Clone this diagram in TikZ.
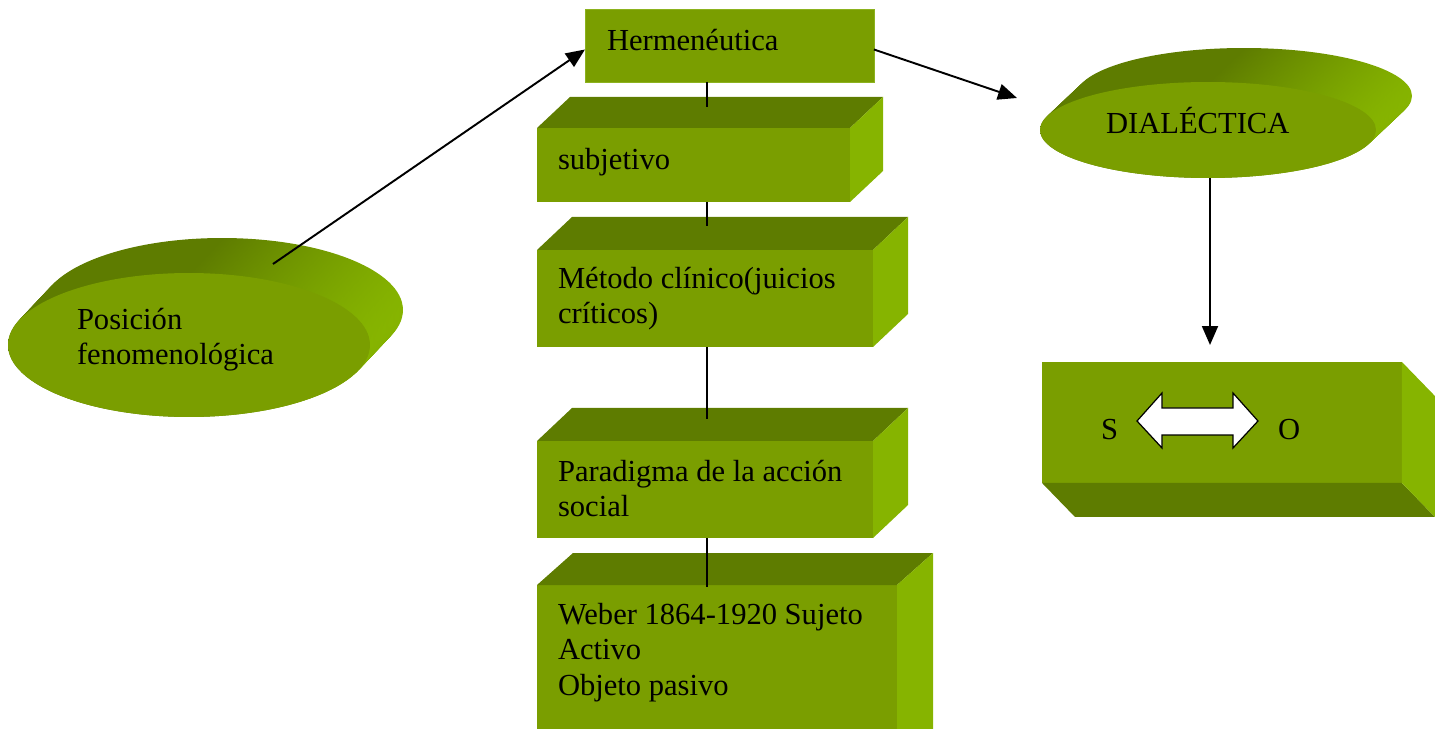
\documentclass[tikz,border=0pt]{standalone}
\usepackage{fontspec}
\setmainfont{Liberation Serif}
\usetikzlibrary{arrows.meta,calc,shapes.geometric}
\definecolor{frontc}{RGB}{122,158,0}
\definecolor{topc}{RGB}{94,124,0}
\definecolor{sidec}{RGB}{134,180,0}
\definecolor{edgec}{RGB}{140,178,30}
\tikzset{
 every node/.style={inner sep=0pt, outer sep=0pt},
 face/.style={rectangle, fill=frontc, draw=none, anchor=north west},
 lbl/.style={font=\fontsize{17.4}{20}\selectfont, align=left, anchor=base west},
 link/.style={line width=1.1pt},
 arr/.style={line width=1.1pt, -{Triangle[length=0.38cm,width=0.32cm]}},
 discfront/.style={ellipse, fill=frontc, draw=none},
}
% name, x, y, w, h, dx, dy  (extrusion up-right)
\newcommand\cubebox[7]{%
 \node[face, minimum width=#4*0.02cm, minimum height=#5*0.02cm] (#1) at (#2,#3) {};
 \fill[topc] (#1.north west) -- ++(#6,-#7) -- ($(#1.north east)+(#6,-#7)$) -- (#1.north east) -- cycle;
 \fill[sidec] (#1.north east) -- ++(#6,-#7) -- ($(#1.south east)+(#6,-#7)$) -- (#1.south east) -- cycle;
}
% cx, cy, rx, ry, dx, dy : extruded side of a disc
\newcommand\discside[6]{%
 \foreach \i in {0,...,28}{
  \path[left color=topc, right color=sidec, middle color=topc]
   ($(#1,#2)+({#5*(1-\i/28)},{-#6*(1-\i/28)})$) ellipse [x radius=#3, y radius=#4];
 }
}
\begin{document}
\begin{tikzpicture}[x=0.02cm,y=-0.02cm]
\useasboundingbox (0,0) rectangle (1444,729);
\clip (0,0) rectangle (1444,729);

% Hermeneutica (flat)
\node[face, minimum width=5.78cm, minimum height=1.46cm, draw=edgec, line width=0.4pt] (herm) at (585,9) {};

% column of boxes
\cubebox{sub}{537}{128}{313}{74}{33}{31}
\cubebox{met}{537}{250}{336}{97}{35}{33}
\cubebox{par}{537}{441}{336}{97}{35}{33}
\cubebox{web}{537}{585}{360}{180}{36}{32}

% S-O box (extrusion down-right)
\node[face, minimum width=7.2cm, minimum height=2.42cm] (so) at (1042,362) {};
\fill[topc] (so.south west) -- ++(33,34) -- ($(so.south east)+(33,34)$) -- (so.south east) -- cycle;
\fill[sidec] (so.north east) -- ++(33,34) -- ($(so.south east)+(33,34)$) -- (so.south east) -- cycle;

% discs
\discside{189}{345}{3.62cm}{1.44cm}{33}{35}
\node[discfront, minimum width=7.24cm, minimum height=2.88cm] (pos) at (189,345) {};
\discside{1208}{130}{3.36cm}{0.96cm}{36}{34}
\node[discfront, minimum width=6.72cm, minimum height=1.92cm] (dial) at (1208,130) {};

% texts (base anchor = baseline of the last line)
\node[lbl] (therm) at (607,51) {Hermenéutica};
\node[lbl] (tsub) at (558,170) {subjetivo};
\node[lbl] (tmet) at (558,324) {Método clínico(juicios\\críticos)};
\node[lbl] (tpar) at (558,517) {Paradigma de la acción\\social};
\node[lbl] (tweb) at (558,695) {Weber 1864-1920 Sujeto\\Activo\\Objeto pasivo};
\node[lbl] (tpos) at (77,365) {Posición\\fenomenológica};
\node[lbl] (tdial) at (1106,134) {DIALÉCTICA};
\node[lbl] (ts) at (1101,439) {S};
\node[lbl] (to) at (1278,439) {O};

% double arrow S <-> O
\filldraw[fill=white, draw=black, line width=0.7pt]
 (1137,421) -- (1162,393) -- (1162,408) -- (1233,408) -- (1233,393) -- (1258,421)
 -- (1233,448) -- (1233,435) -- (1162,435) -- (1162,448) -- cycle;

% vertical connectors
\coordinate (a1) at (707,107);
\coordinate (a2) at (707,226);
\coordinate (a3) at (707,419);
\coordinate (a4) at (707,587);
\draw[link] (herm.south -| a1) -- (a1);
\draw[link] (sub.south -| a2) -- (a2);
\draw[link] (met.south -| a3) -- (a3);
\draw[link] (par.south -| a4) -- (a4);

% arrows
\coordinate (pstart) at (273,264);
\draw[arr] (pstart) -- ($(herm.west)+(0,4)$);
\coordinate (dIn) at (1017,98);
\draw[arr] ($(herm.east)+(0,4)$) -- (dIn);
\coordinate (soIn) at (1210,345);
\draw[arr] (dial.south -| soIn) -- (soIn);
\end{tikzpicture}
\end{document}
